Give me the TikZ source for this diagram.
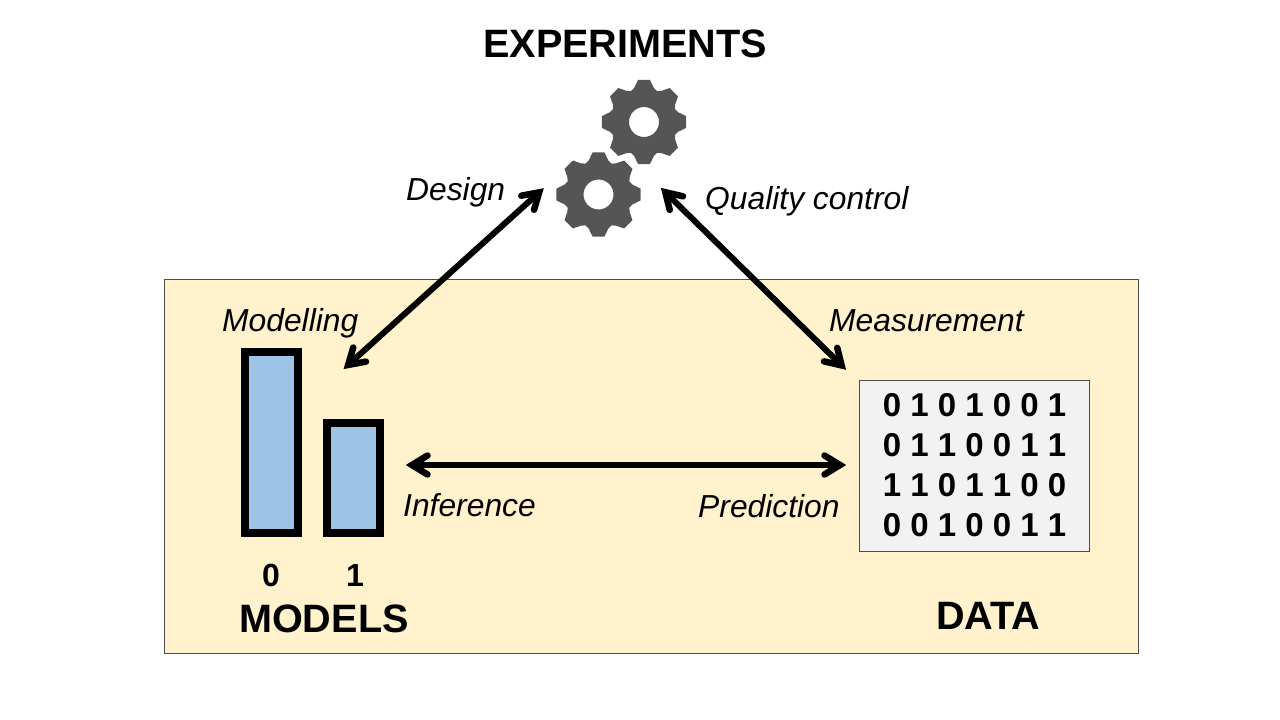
\documentclass[tikz,border=0pt]{standalone}
\usepackage{fontspec}
\setmainfont{Liberation Sans}
\usetikzlibrary{arrows.meta}
\definecolor{panelfill}{HTML}{FFF2CC}
\definecolor{barfill}{HTML}{9DC3E6}
\definecolor{gridfill}{HTML}{F2F2F2}
\definecolor{gearfill}{HTML}{555555}
\pgfdeclarearrow{
  name=Chevron,
  setup code={
    \pgfarrowssettipend{0pt}
    \pgfarrowssetlineend{-8pt}
    \pgfarrowssetbackend{-25pt}
    \pgfarrowssetvisualbackend{-8pt}
  },
  drawing code={
    \pgfsetlinewidth{6.5pt}
    \pgfsetroundcap
    \pgfsetmiterjoin
    \pgfpathmoveto{\pgfqpoint{-22pt}{9.5pt}}
    \pgfpathlineto{\pgfqpoint{-6.5pt}{0pt}}
    \pgfpathlineto{\pgfqpoint{-22pt}{-9.5pt}}
    \pgfusepathqstroke
  }
}
\tikzset{
  node-panel/.style={draw=black!70,fill=panelfill,line width=0.8pt,minimum width=974pt,minimum height=374pt,inner sep=0pt},
  node-bar/.style={draw=black,fill=barfill,line width=8pt,minimum width=53pt,inner sep=0pt},
  node-grid/.style={draw=black!70,fill=gridfill,line width=0.8pt,minimum width=230pt,minimum height=171pt,inner sep=0pt,align=center,font=\fontsize{33}{40}\selectfont\bfseries},
  title/.style={anchor=base west,inner sep=0pt,font=\fontsize{39.6}{48}\selectfont\bfseries},
  step-label/.style={anchor=base west,inner sep=0pt,font=\fontsize{31.8}{38}\selectfont\itshape},
  bar-label/.style={anchor=base,inner sep=0pt,font=\fontsize{32}{38}\selectfont\bfseries},
  link/.style={Chevron-Chevron,line width=6pt,black},
  pics/gear/.style={code={
    \fill[gearfill,even odd rule] (-16:35.5)
      \foreach \a in {0,45,...,315} {
        -- ({\a-16}:35.5) -- ({\a-8}:42.5) -- ({\a+8}:42.5) -- ({\a+16}:35.5) -- ({\a+22.5}:33.5)
      } -- cycle (0,0) circle (15);
  }},
}
\begin{document}
\begin{tikzpicture}[x=1pt,y=-1pt]
  \useasboundingbox (0,0) rectangle (1280,720);

  \node[node-panel] (panel) at (651.5,466.5) {};

  % GEARS
  \pic (gear-top) at (644,122) {gear};
  \pic (gear-low) at (598.5,194.5) {gear};
  \node[title] (experiments) at (483,57) {EXPERIMENTS};

  % MODELS
  \node[node-bar,minimum height=181pt] (bar0) at (271.5,442.5) {};
  \node[node-bar,minimum height=110pt] (bar1) at (353,478) {};
  \node[bar-label] (lab0) at (271,586) {0};
  \node[bar-label] (lab1) at (355,586) {1};
  \node[title] (models) at (239,632) {MODELS};

  % DATA
  \node[node-grid] (grid) at (974.5,465.5) {0 1 0 1 0 0 1\\0 1 1 0 0 1 1\\1 1 0 1 1 0 0\\0 0 1 0 0 1 1};
  \node[title] (data) at (936,629) {DATA};

  % LINK ENDS
  \coordinate (design-a) at (544,188);
  \coordinate (design-b) at (343.3,369.3);
  \coordinate (quality-a) at (660.7,187.7);
  \coordinate (quality-b) at (846.3,370);
  \coordinate (infer-a) at (405.5,465);
  \coordinate (infer-b) at (846.5,465);
  \draw[link] (design-a) -- (design-b);
  \draw[link] (quality-a) -- (quality-b);
  \draw[link] (infer-a) -- (infer-b);

  % LABELS
  \node[step-label] (design) at (406,200) {Design};
  \node[step-label] (quality) at (705,209) {Quality control};
  \node[step-label] (modelling) at (222,331) {Modelling};
  \node[step-label] (measurement) at (829,331) {Measurement};
  \node[step-label] (inference) at (403,516) {Inference};
  \node[step-label] (prediction) at (698,517) {Prediction};

\end{tikzpicture}
\end{document}
